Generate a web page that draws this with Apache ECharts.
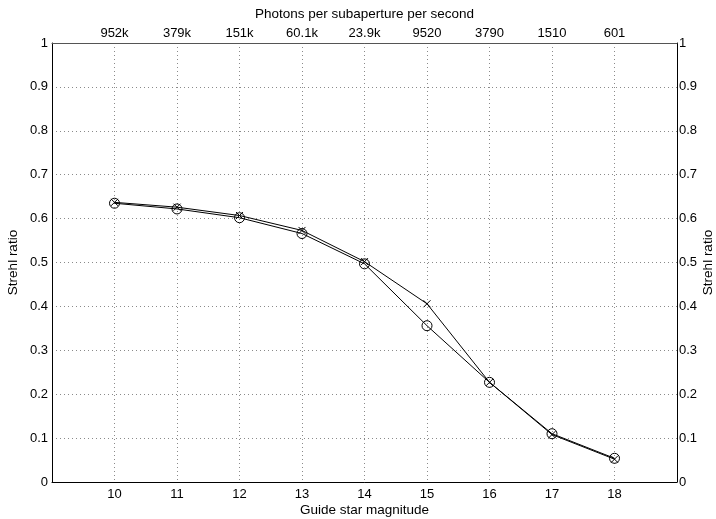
<!DOCTYPE html>
<html>
<head>
<meta charset="utf-8">
<script src="https://cdn.jsdelivr.net/npm/echarts@6/dist/echarts.min.js"></script>
<style>
  html, body { margin: 0; padding: 0; background: #fff; }
  #chart { width: 716px; height: 519px; }
</style>
</head>
<body>
<div id="chart"></div>
<script>
// Guide star magnitudes (bottom axis) and matching photon flux labels (top axis)
const magnitudes = [10, 11, 12, 13, 14, 15, 16, 17, 18];
const photonLabels = ['952k', '379k', '151k', '60.1k', '23.9k', '9520', '3790', '1510', '601'];

// Strehl ratio for the two runs
const strehlCircle = [0.635, 0.622, 0.602, 0.566, 0.497, 0.356, 0.227, 0.110, 0.054];
const strehlCross  = [0.637, 0.626, 0.607, 0.573, 0.502, 0.406, 0.227, 0.108, 0.052];

const FONT = 'Liberation Sans, Arial, Helvetica, sans-serif';
const tickTxt = { color: '#000', fontFamily: FONT, fontSize: 13 };
const nameTxt = { color: '#000', fontFamily: FONT, fontSize: 13.5 };
const gridLine = { show: true, lineStyle: { color: '#8a8a8a', type: [1, 3], width: 1 } };

const pairs = (ys) => magnitudes.map((m, i) => [m, ys[i]]);
const fmtY = (v) => String(+v.toFixed(1));

const chart = echarts.init(document.getElementById('chart'), null, { renderer: 'canvas' });

chart.setOption({
  backgroundColor: '#fff',
  animation: false,
  grid: { left: 52, right: 39, top: 43, bottom: 37, containLabel: false, outerBoundsMode: 'none' },
  xAxis: [
    {
      type: 'value', position: 'bottom', min: 9, max: 19, interval: 1,
      name: 'Guide star magnitude', nameLocation: 'middle', nameGap: 21, nameMoveOverlap: false,
      nameTextStyle: nameTxt,
      axisLine: { show: true, onZero: false, lineStyle: { color: '#000', width: 1 } },
      axisTick: { show: false },
      axisLabel: Object.assign({}, tickTxt, {
        margin: 6,
        formatter: (v) => (magnitudes.indexOf(v) >= 0 ? String(v) : '')
      }),
      splitLine: gridLine
    },
    {
      type: 'value', position: 'top', min: 9, max: 19, interval: 1,
      name: 'Photons per subaperture per second', nameLocation: 'middle', nameGap: 22, nameMoveOverlap: false,
      nameTextStyle: nameTxt,
      axisLine: { show: true, onZero: false, lineStyle: { color: '#555', width: 1 } },
      axisTick: { show: false },
      axisLabel: Object.assign({}, tickTxt, {
        margin: 3,
        formatter: (v) => {
          const i = magnitudes.indexOf(v);
          return i >= 0 ? photonLabels[i] : '';
        }
      }),
      splitLine: { show: false }
    }
  ],
  yAxis: [
    {
      type: 'value', position: 'left', min: 0, max: 1, interval: 0.1,
      name: 'Strehl ratio', nameLocation: 'middle', nameGap: 32, nameRotate: 90, nameMoveOverlap: false,
      nameTextStyle: nameTxt,
      axisLine: { show: true, onZero: false, lineStyle: { color: '#000', width: 1 } },
      axisTick: { show: false },
      axisLabel: Object.assign({}, tickTxt, { margin: 4, formatter: fmtY }),
      splitLine: gridLine
    },
    {
      type: 'value', position: 'right', min: 0, max: 1, interval: 0.1,
      name: 'Strehl ratio', nameLocation: 'middle', nameGap: 24, nameRotate: 90, nameMoveOverlap: false,
      nameTextStyle: nameTxt,
      axisLine: { show: true, onZero: false, lineStyle: { color: '#000', width: 1 } },
      axisTick: { show: false },
      axisLabel: Object.assign({}, tickTxt, { margin: 2, formatter: fmtY }),
      splitLine: { show: false }
    }
  ],
  series: [
    {
      type: 'line', name: 'circle', data: pairs(strehlCircle),
      symbol: 'circle', symbolSize: 10, showAllSymbol: true,
      lineStyle: { color: '#000', width: 1 },
      itemStyle: { color: 'rgba(0,0,0,0)', borderColor: '#000', borderWidth: 1 },
      z: 3
    },
    {
      type: 'line', name: 'cross', data: pairs(strehlCross),
      symbol: 'path://M0,0L10,10M10,0L0,10', symbolSize: 7, showAllSymbol: true,
      lineStyle: { color: '#000', width: 1 },
      itemStyle: { color: 'none', borderColor: '#000', borderWidth: 1 },
      z: 4
    }
  ]
});
</script>
</body>
</html>
